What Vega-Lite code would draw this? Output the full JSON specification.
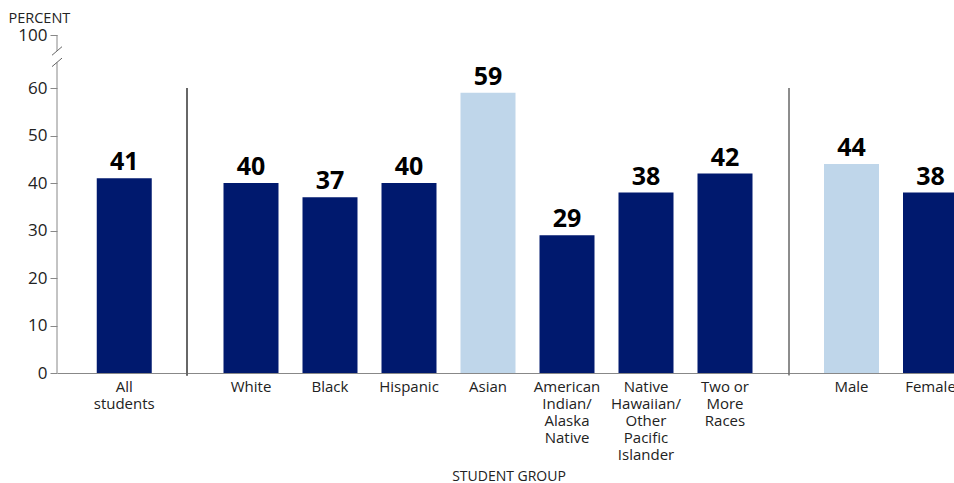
{
  "$schema": "https://vega.github.io/schema/vega-lite/v6.json",
  "padding": {"left": 8, "top": 10, "right": 0, "bottom": 0},
  "config": {"font": "Open Sans", "view": {"stroke": null}, "axis": {"grid": false}},
  "data": {"values": [
    {"student_group": "All students", "category": "Total", "percent": 41},
    {"student_group": "White", "category": "Race/ethnicity", "percent": 40},
    {"student_group": "Black", "category": "Race/ethnicity", "percent": 37},
    {"student_group": "Hispanic", "category": "Race/ethnicity", "percent": 40},
    {"student_group": "Asian", "category": "Race/ethnicity", "percent": 59},
    {"student_group": "American Indian/ Alaska Native", "category": "Race/ethnicity", "percent": 29},
    {"student_group": "Native Hawaiian/ Other Pacific Islander", "category": "Race/ethnicity", "percent": 38},
    {"student_group": "Two\u00a0or More Races", "category": "Race/ethnicity", "percent": 42},
    {"student_group": "Male", "category": "Sex", "percent": 44},
    {"student_group": "Female", "category": "Sex", "percent": 38}
  ]},
  "spacing": 0,
  "bounds": "flush",
  "resolve": {"scale": {"x": "independent", "y": "independent"}},
  "hconcat": [
    {
      "width": 130, "height": 338,
      "transform": [{"filter": "datum.category === 'Total'"}],
      "layer": [
        {
          "mark": {"type": "bar"},
          "encoding": {
            "x": {"field": "student_group", "type": "nominal", "sort": null,
              "scale": {"paddingInner": 0.3038, "paddingOuter": 0.4747, "align": 0.53},
              "axis": {"title": null, "ticks": false, "domainColor": "#888", "labelAngle": 0, "labelFontSize": 15, "labelColor": "#222", "labelExpr": "split(datum.label, ' ')", "labelLineHeight": 17, "labelPadding": 6, "labelBaseline": "top", "labelOverlap": false}},
            "y": {"field": "percent", "type": "quantitative",
              "scale": {"domain": [0, 71.16], "nice": false},
              "axis": {"values": [0, 10, 20, 30, 40, 50, 60, 71.16], "labelExpr": "datum.value > 70 ? '100' : datum.label", "domain": false, "tickSize": 7, "tickColor": "#888", "labelFontSize": 17, "labelColor": "#222", "labelPadding": 3, "title": "PERCENT", "titleAngle": 0, "titleAlign": "left", "titleBaseline": "alphabetic", "titleX": -49, "titleY": -13, "titleFontSize": 14.5, "titleFontWeight": "normal", "titleColor": "#222"}},
            "color": {"condition": {"test": "datum.student_group === 'Asian' || datum.student_group === 'Male'", "value": "#bfd6ea"}, "value": "#00196e"}
          }
        },
        {
          "mark": {"type": "text", "dy": -8, "baseline": "alphabetic", "fontSize": 25, "fontWeight": "bold", "color": "#000"},
          "encoding": {
            "x": {"field": "student_group", "type": "nominal", "sort": null},
            "y": {"field": "percent", "type": "quantitative"},
            "text": {"field": "percent", "type": "quantitative"}
          }
        },
        {
          "mark": {"type": "rule", "color": "#888", "strokeWidth": 1},
          "encoding": {"x": {"value": 0}, "y": {"datum": 0}, "y2": {"datum": 65.4}}
        },
        {
          "mark": {"type": "rule", "color": "#888", "strokeWidth": 1},
          "encoding": {"x": {"value": 0}, "y": {"datum": 67.8}, "y2": {"datum": 71.16}}
        },
        {
          "mark": {"type": "rule", "color": "#666", "strokeWidth": 1},
          "encoding": {"x": {"value": -5}, "x2": {"value": 5}, "y": {"datum": 64.5}, "y2": {"datum": 66.3}}
        },
        {
          "mark": {"type": "rule", "color": "#666", "strokeWidth": 1},
          "encoding": {"x": {"value": -5}, "x2": {"value": 5}, "y": {"datum": 66.9}, "y2": {"datum": 68.7}}
        }
      ]
    },
    {
      "width": 602, "height": 338,
      "transform": [{"filter": "datum.category === 'Race/ethnicity'"}],
      "layer": [
        {
          "mark": {"type": "bar"},
          "encoding": {
            "x": {"field": "student_group", "type": "nominal", "sort": null,
              "scale": {"paddingInner": 0.3038, "paddingOuter": 0.462},
              "axis": {"title": "STUDENT GROUP", "titleX": 321.5, "titleFontSize": 14, "titleFontWeight": "normal", "titleColor": "#222", "titlePadding": 7, "ticks": false, "domainColor": "#888", "labelAngle": 0, "labelFontSize": 15, "labelColor": "#222", "labelExpr": "split(datum.label, ' ')", "labelLineHeight": 17, "labelPadding": 6, "labelBaseline": "top", "labelOverlap": false}},
            "y": {"field": "percent", "type": "quantitative", "scale": {"domain": [0, 71.16], "nice": false}, "axis": null},
            "color": {"condition": {"test": "datum.student_group === 'Asian' || datum.student_group === 'Male'", "value": "#bfd6ea"}, "value": "#00196e"}
          }
        },
        {
          "mark": {"type": "text", "dy": -8, "baseline": "alphabetic", "fontSize": 25, "fontWeight": "bold", "color": "#000"},
          "encoding": {
            "x": {"field": "student_group", "type": "nominal", "sort": null},
            "y": {"field": "percent", "type": "quantitative"},
            "text": {"field": "percent", "type": "quantitative"}
          }
        },
        {
          "mark": {"type": "rule", "color": "#666", "strokeWidth": 1},
          "encoding": {"x": {"value": 0}, "y": {"datum": -0.5}, "y2": {"datum": 60}}
        }
      ]
    },
    {
      "width": 165, "height": 338,
      "transform": [{"filter": "datum.category === 'Sex'"}],
      "layer": [
        {
          "mark": {"type": "bar", "clip": true},
          "encoding": {
            "x": {"field": "student_group", "type": "nominal", "sort": null,
              "scale": {"range": [0, 204], "paddingInner": 0.3038, "paddingOuter": 0.443},
              "axis": {"title": null, "ticks": false, "domainColor": "#888", "labelAngle": 0, "labelFontSize": 15, "labelColor": "#222", "labelExpr": "split(datum.label, ' ')", "labelLineHeight": 17, "labelPadding": 6, "labelBaseline": "top", "labelOverlap": false}},
            "y": {"field": "percent", "type": "quantitative", "scale": {"domain": [0, 71.16], "nice": false}, "axis": null},
            "color": {"condition": {"test": "datum.student_group === 'Asian' || datum.student_group === 'Male'", "value": "#bfd6ea"}, "value": "#00196e"}
          }
        },
        {
          "mark": {"type": "text", "dy": -8, "baseline": "alphabetic", "fontSize": 25, "fontWeight": "bold", "color": "#000"},
          "encoding": {
            "x": {"field": "student_group", "type": "nominal", "sort": null},
            "y": {"field": "percent", "type": "quantitative"},
            "text": {"field": "percent", "type": "quantitative"}
          }
        },
        {
          "mark": {"type": "rule", "color": "#666", "strokeWidth": 1},
          "encoding": {"x": {"value": 0}, "y": {"datum": -0.5}, "y2": {"datum": 60}}
        }
      ]
    }
  ]
}
